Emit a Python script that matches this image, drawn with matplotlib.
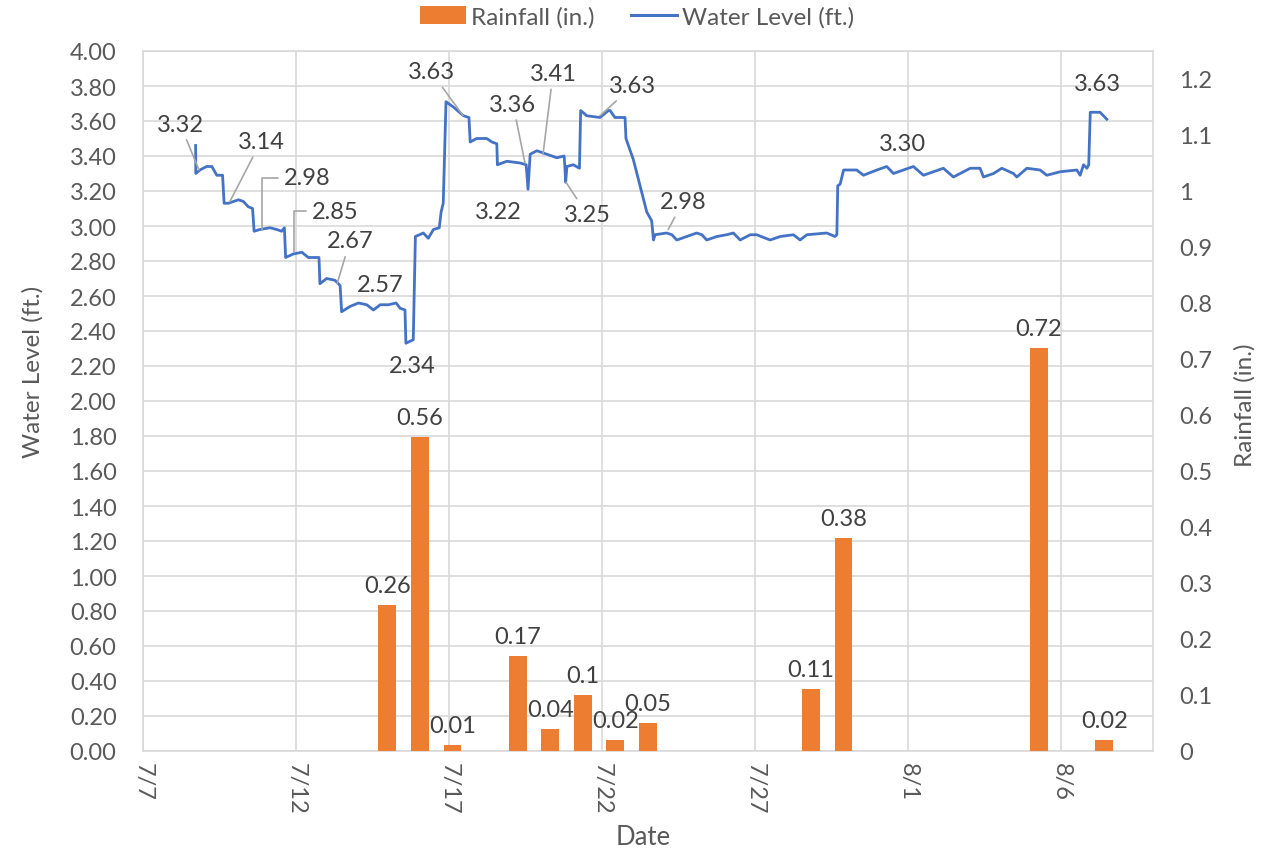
import numpy as np
import pandas as pd
import matplotlib
matplotlib.use("Agg")
import matplotlib.pyplot as plt
import matplotlib.dates as mdates
from matplotlib.ticker import FuncFormatter
from matplotlib.patches import Patch
from matplotlib.lines import Line2D

plt.rcParams['font.family'] = ['Lato', 'DejaVu Sans']

start = pd.Timestamp("2021-07-07")

# water level trace: days after 7/7 00:00 and level (ft.)
wl_day = [1.72, 1.725, 1.86, 2.08, 2.25, 2.41, 2.60, 2.65, 2.79, 3.12,
          3.28, 3.44, 3.58, 3.63, 3.82, 4.15, 4.37, 4.53, 4.62, 4.66,
          4.91, 5.19, 5.40, 5.68, 5.75, 5.78, 6.00, 6.27, 6.44, 6.49,
          6.76, 7.04, 7.31, 7.53, 7.75, 8.02, 8.27, 8.40, 8.56, 8.59,
          8.83, 8.90, 9.16, 9.32, 9.49, 9.68, 9.74, 9.81, 9.90, 10.14,
          10.47, 10.65, 10.69, 10.90, 11.23, 11.40, 11.56, 11.58, 11.89, 12.32,
          12.52, 12.58, 12.65, 12.87, 13.19, 13.52, 13.76, 13.78, 13.81, 13.85,
          14.06, 14.26, 14.30, 14.50, 14.93, 15.21, 15.26, 15.42, 15.75, 15.78,
          16.02, 16.24, 16.46, 16.62, 16.68, 16.73, 17.11, 17.28, 17.44, 17.77,
          18.09, 18.26, 18.42, 18.75, 19.07, 19.29, 19.51, 19.84, 20.05, 20.49,
          20.82, 21.25, 21.47, 21.69, 22.34, 22.61, 22.67, 22.70, 22.78, 22.89,
          23.32, 23.54, 23.98, 24.30, 24.52, 24.85, 25.17, 25.50, 25.83, 26.15,
          26.48, 26.70, 27.03, 27.35, 27.46, 27.79, 28.06, 28.44, 28.55, 28.88,
          29.31, 29.53, 29.97, 30.51, 30.62, 30.73, 30.84, 30.90, 30.95, 31.27,
          31.49]
wl_ft = [3.46, 3.30, 3.32, 3.34, 3.34, 3.29, 3.29, 3.13, 3.13, 3.15,
         3.14, 3.11, 3.10, 2.97, 2.98, 2.99, 2.98, 2.97, 2.99, 2.82,
         2.84, 2.85, 2.82, 2.82, 2.82, 2.67, 2.70, 2.69, 2.66, 2.51,
         2.54, 2.56, 2.55, 2.52, 2.55, 2.55, 2.56, 2.53, 2.52, 2.33,
         2.35, 2.94, 2.96, 2.93, 2.98, 2.99, 3.08, 3.13, 3.71, 3.68,
         3.63, 3.62, 3.48, 3.50, 3.50, 3.48, 3.47, 3.35, 3.37, 3.36,
         3.35, 3.21, 3.41, 3.43, 3.41, 3.39, 3.40, 3.35, 3.25, 3.34,
         3.35, 3.33, 3.66, 3.63, 3.62, 3.66, 3.66, 3.62, 3.62, 3.50,
         3.38, 3.23, 3.08, 3.03, 2.92, 2.95, 2.96, 2.95, 2.92, 2.94,
         2.96, 2.95, 2.92, 2.94, 2.95, 2.96, 2.92, 2.95, 2.95, 2.92,
         2.94, 2.95, 2.92, 2.95, 2.96, 2.94, 2.95, 3.23, 3.24, 3.32,
         3.32, 3.29, 3.32, 3.34, 3.30, 3.32, 3.34, 3.29, 3.31, 3.33,
         3.28, 3.30, 3.33, 3.33, 3.28, 3.30, 3.33, 3.30, 3.28, 3.33,
         3.32, 3.29, 3.31, 3.32, 3.29, 3.35, 3.33, 3.35, 3.65, 3.65,
         3.61]

# daily rainfall (category axis 7/8 .. 8/7)
rain_cats = pd.date_range("2021-07-08", "2021-08-07", freq="D")
rain_dates = ["2021-07-15", "2021-07-16", "2021-07-17", "2021-07-19", "2021-07-20",
              "2021-07-21", "2021-07-22", "2021-07-23", "2021-07-28", "2021-07-29",
              "2021-08-04", "2021-08-06"]
rain_in = [0.26, 0.56, 0.01, 0.17, 0.04, 0.1, 0.02, 0.05, 0.11, 0.38, 0.72, 0.02]

# labelled water levels: day, value, label offset (px), leader style
ann_day = [1.83, 2.84, 3.89, 4.93, 6.34, 7.75, 8.70, 10.46, 12.48, 12.58,
           13.07, 13.82, 14.93, 17.16, 24.80, 31.18]
ann_ft = [3.32, 3.14, 2.98, 2.85, 2.67, 2.57, 2.34, 3.63, 3.36, 3.22,
          3.41, 3.25, 3.63, 2.98, 3.30, 3.63]
ann_off = [(-19, 46), (31, 60), (45, 52), (41, 41), (13, 43), (0, 17), (3, -24), (-32, 44),
           (-12, 59), (-30, -24), (10, 81), (21, -32), (33, 30), (15, 28), (0, 30), (0, 32)]
ann_leader = ["line", "line", "elbow", "elbow", "line", None, None, "line",
              "line", None, "line", "line", "line", "line", None, None]

line_c = "#4472C4"
bar_c = "#ED7D31"
grid_c = "#D9D9D9"
tick_c = "#595959"
text_c = "#404040"
fs = 17
fs_title = 17.5

fig = plt.figure(figsize=(12.64, 8.54), dpi=100)
ax = fig.add_axes([143 / 1264, 102 / 854, 1010 / 1264, 700 / 854])
ax2 = ax.twinx()
ax3 = ax2.twiny()

wl_dates = start + pd.to_timedelta(wl_day, unit="D")
ax.plot(wl_dates, wl_ft, color=line_c, lw=2.0, zorder=3)

ax.set_xlim(start, start + pd.Timedelta(days=33))
ax.set_ylim(0, 4)
ax.set_yticks(np.arange(0, 4.001, 0.2))
ax.yaxis.set_major_formatter(FuncFormatter(lambda v, p: f"{v:.2f}"))
ax.set_xticks(pd.date_range(start, periods=7, freq="5D"))
ax.xaxis.set_major_formatter(FuncFormatter(
    lambda v, p: f"{mdates.num2date(v).month}/{mdates.num2date(v).day}"))
ax.tick_params(axis="x", rotation=-90, length=0, pad=8, labelsize=fs, colors=tick_c)
ax.tick_params(axis="y", length=0, pad=19, labelsize=fs, colors=tick_c)
ax.grid(True, color=grid_c, lw=1.2)
ax.set_axisbelow(True)
for s in ax.spines.values():
    s.set_color(grid_c)
    s.set_linewidth(1.2)

# right axis: 0.1 in. per 0.2 ft gridline scale leaves headroom above 1.2
ax2.set_ylim(0, 1.25)
ax2.set_yticks(np.arange(0, 1.2001, 0.1))
ax2.yaxis.set_major_formatter(FuncFormatter(lambda v, p: f"{round(v, 1):g}"))
ax2.tick_params(axis="y", length=0, pad=19, labelsize=fs, colors=tick_c)
for s in ax2.spines.values():
    s.set_visible(False)

# bars on their own category axis
cat_idx = [list(rain_cats).index(pd.Timestamp(d)) for d in rain_dates]
ax3.set_xlim(-0.5, len(rain_cats) - 0.5)
ax3.bar(cat_idx, rain_in, width=0.55, color=bar_c, zorder=2)
for i, v in zip(cat_idx, rain_in):
    ax3.annotate(f"{v:g}", (i, v), xytext=(0, 9), textcoords="offset pixels",
                 ha="center", va="bottom", fontsize=fs, color=text_c)
ax3.set_xticks([])
ax3.tick_params(axis="x", length=0)
for s in ax3.spines.values():
    s.set_visible(False)

# water level labels
for d, v, off, kind in zip(ann_day, ann_ft, ann_off, ann_leader):
    xy = (start + pd.Timedelta(days=d), v)
    kw = dict(xytext=off, textcoords="offset pixels", ha="center", va="center",
              fontsize=fs, color=text_c, zorder=6)
    if kind == "line":
        kw["arrowprops"] = dict(arrowstyle="-", color="#A6A6A6", lw=1.2, shrinkB=0)
    elif kind == "elbow":
        kw["arrowprops"] = dict(arrowstyle="-", color="#A6A6A6", lw=1.2, shrinkB=0,
                                relpos=(0, 0.5),
                                connectionstyle="angle,angleA=0,angleB=90,rad=0")
    ax.annotate(f"{v:.2f}", xy, **kw)

fig.text(33 / 1264, 1 - 372 / 854, "Water Level (ft.)", rotation=90, ha="center",
         va="center", fontsize=fs_title, color=tick_c)
fig.text(1245 / 1264, 1 - 405 / 854, "Rainfall (in.)", rotation=90, ha="center",
         va="center", fontsize=fs_title, color=tick_c)
fig.text(643 / 1264, 1 - 838 / 854, "Date", ha="center", va="center",
         fontsize=fs_title + 1, color=tick_c)

handles = [Patch(facecolor=bar_c, label="Rainfall (in.)"),
           Line2D([0], [0], color=line_c, lw=2.2, label="Water Level (ft.)")]
fig.legend(handles=handles, loc="center", bbox_to_anchor=(0.504, 1 - 18 / 854), ncol=2,
           frameon=False, fontsize=fs + 0.5, handlelength=1.9, handleheight=0.75,
           handletextpad=0.2, columnspacing=1.5, labelcolor=tick_c)

fig.savefig("out.png", dpi=100)
